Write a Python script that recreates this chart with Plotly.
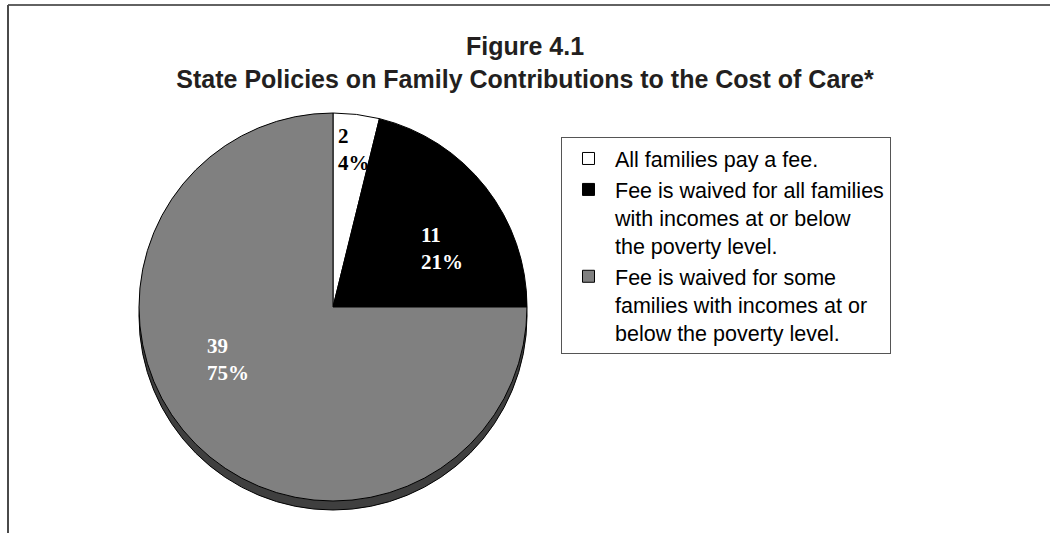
import plotly.graph_objects as go

# State counts per fee policy
categories = [
    "All families pay a fee.",
    "Fee is waived for all families<br>with incomes at or below<br>the poverty level.",
    "Fee is waived for some<br>families with incomes at or<br>below the poverty level.",
]
state_counts = [2, 11, 39]
slice_colors = ["#ffffff", "#000000", "#808080"]
label_colors = ["#000000", "#ffffff", "#ffffff"]

W, H = 1050, 533

# pie geometry in pixels
CX, CY, R = 333, 307, 194
DEPTH = 9

def dom(cx, cy, r):
    return dict(
        x=[(cx - r) / W, (cx + r) / W],
        y=[(H - cy - r) / H, (H - cy + r) / H],
    )

total = sum(state_counts)
pcts = [round(100 * v / total) for v in state_counts]

fig = go.Figure()

# dark rim under the pie for the raised edge
fig.add_trace(go.Pie(
    labels=["rim"],
    values=[total],
    domain=dom(CX, CY + DEPTH, R),
    marker=dict(colors=["#3f3f3f"], line=dict(color="#000000", width=1)),
    textinfo="none",
    hoverinfo="skip",
    showlegend=False,
    sort=False,
))

fig.add_trace(go.Pie(
    labels=categories,
    values=state_counts,
    domain=dom(CX, CY, R),
    sort=False,
    direction="clockwise",
    rotation=0,
    marker=dict(colors=slice_colors, line=dict(color="#000000", width=1)),
    textinfo="none",
    hoverinfo="label+value+percent",
))

# slice labels (count and share), left-aligned blocks
label_pos = [(336, 122), (419, 221), (205, 332)]
for (lx, ly), n, p, c in zip(label_pos, state_counts, pcts, label_colors):
    fig.add_annotation(
        x=lx / W, y=1 - ly / H, xref="paper", yref="paper",
        xanchor="left", yanchor="top", align="left",
        text=f"{n}<br>{p}%", showarrow=False,
        font=dict(family="Liberation Serif, Times New Roman, serif",
                  size=21, color=c, weight="bold"),
    )

# frame lines along top and left edges
fig.add_shape(type="line", xref="paper", yref="paper",
              x0=8 / W, x1=1, y0=1 - 5 / H, y1=1 - 5 / H,
              line=dict(color="#2e2e2e", width=1.5))
fig.add_shape(type="line", xref="paper", yref="paper",
              x0=8 / W, x1=8 / W, y0=1 - 5 / H, y1=0,
              line=dict(color="#4a4a4a", width=2))

fig.update_layout(
    width=W, height=H,
    margin=dict(l=0, r=0, t=0, b=0),
    paper_bgcolor="#ffffff",
    plot_bgcolor="#ffffff",
    title=dict(
        text="Figure 4.1<br>State Policies on Family Contributions to the Cost of Care*",
        x=525 / W, xanchor="center",
        y=1 - 55 / H, yanchor="middle",
        font=dict(family="Liberation Sans, Arial, sans-serif", size=25,
                  color="#231f20", weight="bold"),
    ),
    legend=dict(
        x=561 / W, xanchor="left",
        y=1 - 137 / H, yanchor="top",
        bgcolor="#ffffff",
        bordercolor="#555555", borderwidth=1,
        font=dict(family="Liberation Sans, Arial, sans-serif", size=21.5,
                  color="#000000"),
        valign="top",
        itemwidth=43,
        entrywidth=300,
        entrywidthmode="pixels",
        traceorder="normal",
    ),
)

fig.write_html("out.html")
